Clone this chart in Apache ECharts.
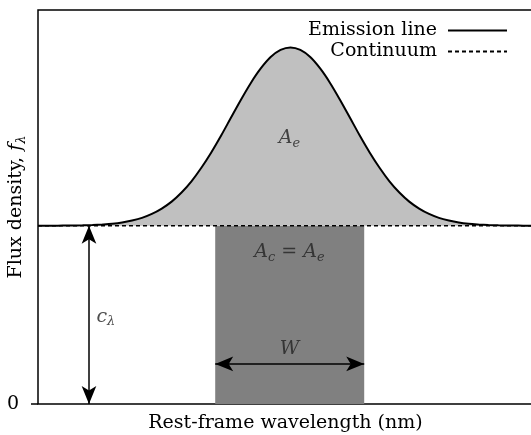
<!DOCTYPE html>
<html>
<head>
<meta charset="utf-8">
<script src="https://cdn.jsdelivr.net/npm/echarts@6/dist/echarts.min.js"></script>
<style>
  html, body { margin: 0; padding: 0; background: #fff; }
  #chart { width: 531px; height: 435px; }
</style>
</head>
<body>
<div id="chart"></div>
<script>
// emission line profile (arbitrary units)
const waveX = [0, 1, 3, 5, 7, 9, 11, 13, 15, 17, 19, 21, 23, 25, 27, 29, 31, 33, 35, 37, 39,
  41, 43, 45, 47, 49, 51, 53, 55, 57, 59, 61, 63, 65, 67, 69, 71, 73, 75, 77, 79,
  81, 83, 85, 87, 89, 91, 93, 95, 97, 99, 100];
const emissionY = [1.000, 1.000, 1.000, 1.001, 1.001, 1.002, 1.004, 1.007, 1.011, 1.018, 1.029,
  1.044, 1.066, 1.096, 1.135, 1.186, 1.249, 1.325, 1.411, 1.506, 1.607,
  1.707, 1.801, 1.882, 1.946, 1.986, 2.000, 1.986, 1.946, 1.882, 1.801,
  1.707, 1.607, 1.506, 1.411, 1.325, 1.249, 1.186, 1.135, 1.096, 1.066,
  1.044, 1.029, 1.018, 1.011, 1.007, 1.004, 1.002, 1.001, 1.001, 1.000, 1.000];
const continuumLevel = 1;
const xRange = [0, 100];
const yMax = 2.21;
// equivalent width band and arrows
const bandX = [35.8, 65.9];
const widthArrowY = 0.225;
const contArrowX = 10.3;
// annotation anchors [x, y]
const labelAe = [50.8, 1.49];
const labelAc = [50.8, 0.85];
const labelW = [50.8, 0.31];
const labelC = [10.8, 0.49];

const serif = 'DejaVu Serif';
const fs = 19;
const sub = { fontFamily: serif, fontStyle: 'italic', fontSize: 13, padding: [10, 0, 0, 0], color: '#222' };
const it = { fontFamily: serif, fontStyle: 'italic', fontSize: fs, color: '#222' };
const rm = { fontFamily: serif, fontSize: fs, color: '#222' };
const legendText = { fontFamily: serif, fontSize: fs, color: '#000', padding: [0, 6, 0, 0] };

const myChart = echarts.init(document.getElementById('chart'));

const options = {
  animation: false,
  grid: {
    left: 38, right: -2, top: 10, bottom: 31, outerBoundsMode: 'none', containLabel: false,
    show: true, borderColor: '#000', borderWidth: 1.5
  },
  legend: [
    {
      data: ['Emission line'], right: 18, top: 16, align: 'right',
      itemWidth: 59, itemHeight: 14, selectedMode: false,
      itemStyle: { opacity: 0 }, textStyle: legendText
    },
    {
      data: ['Continuum'], right: 18, top: 37, align: 'right',
      itemWidth: 59, itemHeight: 14, selectedMode: false,
      itemStyle: { opacity: 0 }, textStyle: legendText
    }
  ],
  xAxis: {
    type: 'value', min: xRange[0], max: xRange[1],
    name: 'Rest-frame wavelength (nm)', nameLocation: 'middle', nameGap: 10, nameMoveOverlap: false,
    nameTextStyle: { fontFamily: serif, fontSize: fs, color: '#000', verticalAlign: 'top' },
    axisLine: { show: false }, axisTick: { show: false }, axisLabel: { show: false },
    splitLine: { show: false }
  },
  yAxis: {
    type: 'value', min: 0, max: yMax,
    name: '{r|Flux density, }{i|f}{s|λ}', nameLocation: 'middle', nameGap: 10, nameMoveOverlap: false,
    nameTextStyle: {
      fontFamily: serif, fontSize: fs, color: '#000',
      rich: {
        r: Object.assign({}, rm, { color: '#000' }),
        i: Object.assign({}, it, { color: '#000' }),
        s: Object.assign({}, sub, { color: '#000' })
      }
    },
    axisLine: { show: false },
    axisTick: { show: true, customValues: [0], length: 7, lineStyle: { color: '#000', width: 1.5 } },
    axisLabel: { customValues: [0], margin: 19, fontFamily: serif, fontSize: fs, color: '#000' },
    splitLine: { show: false }
  },
  series: [
    {
      name: 'band', type: 'line', symbol: 'none', silent: true, z: 1,
      data: [[bandX[0], continuumLevel], [bandX[1], continuumLevel]],
      lineStyle: { width: 0 },
      areaStyle: { color: '#808080', opacity: 1, origin: 0 },
      markLine: {
        silent: true, symbol: ['arrow', 'arrow'], symbolSize: [11, 18],
        label: { show: false },
        lineStyle: { color: '#000', width: 1.5, type: 'solid' },
        data: [
          [{ coord: [contArrowX, 0] }, { coord: [contArrowX, continuumLevel] }],
          [{ coord: [bandX[0], widthArrowY] }, { coord: [bandX[1], widthArrowY] }]
        ]
      }
    },
    {
      name: 'Emission line', type: 'line', symbol: 'none', smooth: 0.3, z: 3,
      data: waveX.map((x, i) => [x, emissionY[i]]),
      itemStyle: { color: '#000' },
      lineStyle: { color: '#000', width: 2 },
      areaStyle: { color: '#c0c0c0', opacity: 1, origin: continuumLevel }
    },
    {
      name: 'Continuum', type: 'line', symbol: 'none', z: 4,
      data: [[xRange[0], continuumLevel], [xRange[1], continuumLevel]],
      itemStyle: { color: '#000' },
      lineStyle: { color: '#000', width: 1.5, type: [4, 3] }
    },
    {
      name: 'labels', type: 'scatter', symbolSize: 0, silent: true, z: 5,
      label: { show: true, position: 'inside', rich: { i: it, r: rm, s: sub } },
      data: [
        { value: labelAe, label: { formatter: '{i|A}{s|e}' } },
        { value: labelAc, label: { formatter: '{i|A}{s|c}{r| = }{i|A}{s|e}' } },
        { value: labelW, label: { formatter: '{i|W}' } },
        { value: labelC, label: { formatter: '{i|c}{s|λ}', position: 'right' } }
      ]
    }
  ]
};

myChart.setOption(options);
</script>
</body>
</html>
